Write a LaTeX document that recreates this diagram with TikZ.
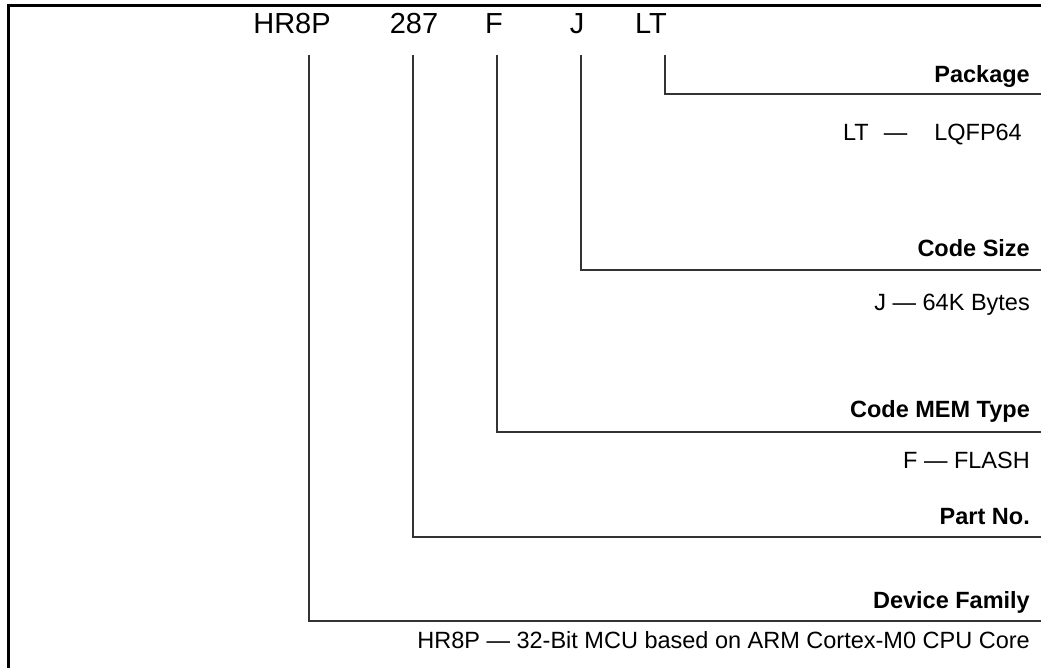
\documentclass[tikz,border=0pt]{standalone}
\usepackage{fontspec}
\setmainfont{Liberation Sans}
\begin{document}
\begin{tikzpicture}[x=1pt,y=-1pt,
  code/.style={font=\fontsize{29}{29}\selectfont, anchor=base, inner sep=0pt},
  lab/.style={font=\bfseries\fontsize{23.5}{23.5}\selectfont, anchor=base east, inner sep=0pt},
  desc/.style={font=\fontsize{23.5}{23.5}\selectfont, anchor=base east, inner sep=0pt},
  conn/.style={line width=1.2pt, draw=black!80},
  frame/.style={line width=2.2pt, draw=black}]
\useasboundingbox (0,0) rectangle (1041,668);
\draw[frame] (8.5,668) -- (8.5,5.5) -- (1041,5.5);
% code letters
\node[code] (hr)  at (292,34) {HR8P};
\node[code] (pn)  at (414,34) {287};
\node[code] (f)   at (494,34) {F};
\node[code] (j)   at (577,34) {J};
\node[code] (lt)  at (651,34) {LT};
% line tops
\coordinate (hrtop) at (309,55);
\coordinate (pntop) at (413,55);
\coordinate (ftop)  at (497,55);
\coordinate (jtop)  at (581,55);
\coordinate (lttop) at (665,55);
% line ends
\coordinate (ltend) at (1041,94);
\coordinate (jend)  at (1041,270);
\coordinate (fend)  at (1041,432);
\coordinate (pnend) at (1041,537);
\coordinate (hrend) at (1041,621);
% labels
\node[lab] (pkg) at (1030,83) {Package};
\node[desc] (pkgd) at (1022,141) {LT\hspace{15pt}—\hspace{27pt}LQFP64};
\node[lab] (cs) at (1030,257) {Code Size};
\node[desc] (csd) at (1030,310) {J — 64K Bytes};
\node[lab] (cm) at (1030,417) {Code MEM Type};
\node[desc] (cmd) at (1030,468) {F — FLASH};
\node[lab] (pno) at (1030,524) {Part No.};
\node[lab] (df) at (1030,608) {Device Family};
\node[desc] (dfd) at (1030,648) {HR8P — 32-Bit MCU based on ARM Cortex-M0 CPU Core};
% connectors
\draw[conn] (lttop) |- (ltend);
\draw[conn] (jtop) |- (jend);
\draw[conn] (ftop) |- (fend);
\draw[conn] (pntop) |- (pnend);
\draw[conn] (hrtop) |- (hrend);
\end{tikzpicture}
\end{document}
